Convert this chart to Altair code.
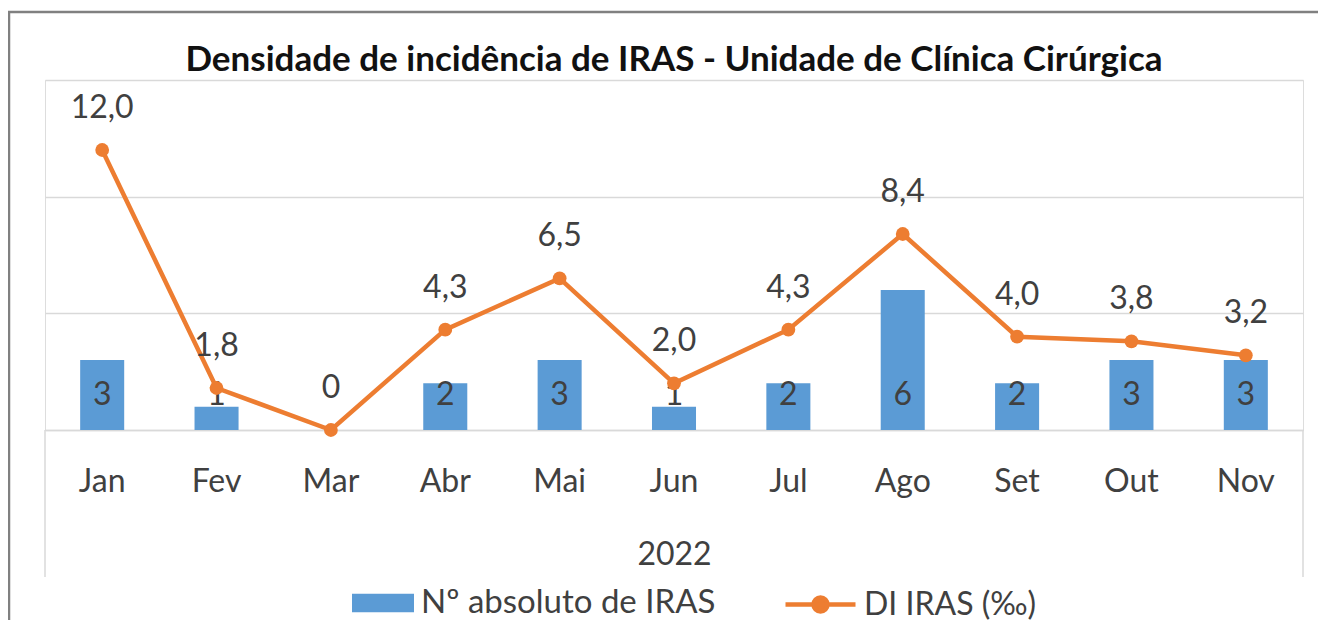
import altair as alt
import pandas as pd

# ---- data ----
months = ["Jan", "Fev", "Mar", "Abr", "Mai", "Jun", "Jul", "Ago", "Set", "Out", "Nov"]
counts = [3, 1, 0, 2, 3, 1, 2, 6, 2, 3, 3]
di_values = [12.0, 1.8, 0.0, 4.3, 6.5, 2.0, 4.3, 8.4, 4.0, 3.8, 3.2]
di_labels = ["12,0", "1,8", "0", "4,3", "6,5", "2,0", "4,3", "8,4", "4,0", "3,8", "3,2"]
year_label = "2022"
chart_title = "Densidade de incidência de IRAS - Unidade de Clínica Cirúrgica"
bar_series = "Nº absoluto de IRAS"
line_series = "DI IRAS (‰)"
y_ticks = [0, 5, 10, 15]

df = pd.DataFrame({
    "mes": months,
    "n": counts,
    "di": di_values,
    "di_label": di_labels,
    "bar_series": bar_series,
    "line_series": line_series,
})
one = pd.DataFrame({"k": [0]})
title_df = pd.DataFrame({"t": [chart_title]})

FONT = "Lato"
TXT = "#404040"
GRID = "#D9D9D9"
BLUE = "#5B9BD5"
ORANGE = "#ED7D31"
W, H = 1258, 350
FS = 32

x_enc = alt.X(
    "mes:N", sort=months,
    scale=alt.Scale(paddingInner=0.615, paddingOuter=0.3075),
    axis=alt.Axis(
        title=year_label, titleFontSize=FS, titleFont=FONT, titleFontWeight="normal",
        titleColor=TXT, titlePadding=42,
        labelFontSize=FS, labelFont=FONT, labelColor=TXT, labelPadding=36, labelAngle=0,
        ticks=False, domain=True, domainColor=GRID, domainWidth=1.5, grid=False,
    ),
)
y_scale = alt.Scale(domain=[0, 15], nice=False)
y_axis = alt.Axis(values=y_ticks, labels=False, ticks=False, domain=False,
                  grid=True, gridColor=GRID, gridWidth=1.5, title=None)

base = alt.Chart(df)

bars = base.mark_bar().encode(
    x=x_enc,
    y=alt.Y("n:Q", scale=y_scale, axis=y_axis),
    fill=alt.Fill(
        "bar_series:N", scale=alt.Scale(range=[BLUE]),
        legend=alt.Legend(
            title=None, orient="none", legendX=307, legendY=492,
            symbolType="M-1,-0.3H1V0.3H-1Z", symbolSize=3844, symbolStrokeWidth=0,
            labelFontSize=FS + 1, labelFont=FONT, labelColor=TXT, labelOffset=7,
            labelLimit=0,
        ),
    ),
)

bar_text = base.transform_filter("datum.n > 0").mark_text(
    fontSize=FS, font=FONT, color=TXT, baseline="middle"
).encode(
    x=alt.X("mes:N", sort=months),
    y=alt.YDatum(1.5),
    text=alt.Text("n:Q"),
)

line = base.mark_line(strokeWidth=4.5).encode(
    x=alt.X("mes:N", sort=months),
    y=alt.Y("di:Q", scale=y_scale),
    stroke=alt.Stroke(
        "line_series:N", scale=alt.Scale(range=[ORANGE]),
        legend=alt.Legend(
            title=None, orient="none", legendX=738, legendY=487,
            symbolType="M-1,0H1M-0.2,0A0.2,0.2 0 1,0 0.2,0A0.2,0.2 0 1,0 -0.2,0Z",
            symbolSize=4900, symbolStrokeWidth=4.5,
            symbolFillColor=ORANGE, symbolStrokeColor=ORANGE,
            labelFontSize=FS, labelFont=FONT, labelColor=TXT, labelOffset=6,
            labelLimit=0,
        ),
    ),
)

points = base.mark_circle(size=190, color=ORANGE, opacity=1).encode(
    x=alt.X("mes:N", sort=months),
    y=alt.Y("di:Q", scale=y_scale),
)

line_text = base.mark_text(
    fontSize=FS, font=FONT, color=TXT, baseline="middle", dy=-42
).encode(
    x=alt.X("mes:N", sort=months),
    y=alt.Y("di:Q", scale=y_scale),
    text="di_label:N",
)

edge_left = alt.Chart(one).mark_rule(color=GRID, strokeWidth=1.5).encode(
    x=alt.value(0), y=alt.value(H), y2=alt.value(H + 147))
edge_right = alt.Chart(one).mark_rule(color=GRID, strokeWidth=1.5).encode(
    x=alt.value(W), y=alt.value(H), y2=alt.value(H + 147))

frame = alt.Chart(one).mark_rect(fillOpacity=0, stroke="#808080", strokeWidth=2.5).encode(
    x=alt.value(-36), x2=alt.value(W + 200), y=alt.value(-68), y2=alt.value(H + 400))

title_mark = alt.Chart(title_df).mark_text(
    font=FONT, fontSize=35, fontWeight="bold", color="#111111",
    align="center", baseline="alphabetic",
).encode(text="t:N", x=alt.value(W / 2), y=alt.value(-9))

chart = alt.layer(
    frame, edge_left, edge_right, bars, bar_text, line, points, line_text, title_mark
).resolve_scale(fill="independent", stroke="independent").properties(
    width=W, height=H,
    autosize=alt.AutoSizeParams(type="none"),
    padding={"left": 37, "top": 72, "right": 15, "bottom": 190},
).configure_view(stroke=None).configure(background="white")

chart.save("out.html", embed_options={"renderer": "svg", "actions": False})
